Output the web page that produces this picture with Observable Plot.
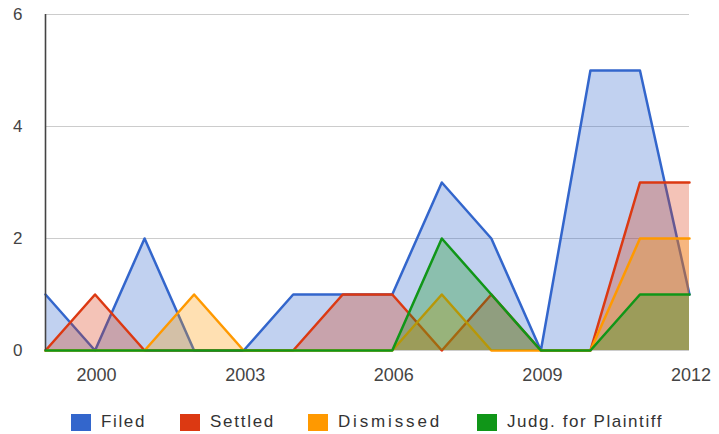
<!DOCTYPE html>
<html>
<head>
<meta charset="utf-8">
<script src="https://cdn.jsdelivr.net/npm/d3@7"></script>
<script src="https://cdn.jsdelivr.net/npm/@observablehq/plot@0.6"></script>
<style>
  html, body { margin: 0; padding: 0; background: #fff; }
  body { width: 719px; height: 434px; overflow: hidden; font-family: "Liberation Sans", Arial, sans-serif; }
  #legend { position: relative; height: 34px; }
  .item { position: absolute; top: 12px; display: flex; align-items: center; font-size: 17px; color: #333; white-space: nowrap; }
  .sw { width: 20px; height: 17px; margin-right: 10px; flex: none; }
</style>
</head>
<body>
<div id="chart"></div>
<div id="legend"></div>
<script>
const years = [1999, 2000, 2001, 2002, 2003, 2004, 2005, 2006, 2007, 2008, 2009, 2010, 2011, 2012];
const seriesNames = ["Filed", "Settled", "Dismissed", "Judg. for Plaintiff"];
const seriesColors = ["#3366cc", "#dc3912", "#ff9900", "#109618"];
const filed     = [1, 0, 2, 0, 0, 1, 1, 1, 3, 2, 0, 5, 5, 1];
const settled   = [0, 1, 0, 0, 0, 0, 1, 1, 0, 1, 0, 0, 3, 3];
const dismissed = [0, 0, 0, 1, 0, 0, 0, 0, 1, 0, 0, 0, 2, 2];
const judgment  = [0, 0, 0, 0, 0, 0, 0, 0, 2, 1, 0, 0, 1, 1];
const xTicks = [2000, 2003, 2006, 2009, 2012];
const yTicks = [0, 2, 4, 6];

const allValues = [filed, settled, dismissed, judgment];
const data = [];
seriesNames.forEach((name, i) => {
  years.forEach((yr, j) => data.push({series: name, year: yr, value: allValues[i][j]}));
});

const marks = [
  Plot.ruleY(yTicks, {stroke: "#cccccc", strokeWidth: 1})
];
seriesNames.forEach((name, i) => {
  const d = data.filter(r => r.series === name);
  marks.push(Plot.areaY(d, {x: "year", y: "value", fill: seriesColors[i], fillOpacity: 0.3}));
  marks.push(Plot.line(d, {x: "year", y: "value", stroke: seriesColors[i], strokeWidth: 2.5}));
});
marks.push(Plot.ruleX([years[0]], {y1: 0, y2: 6, stroke: "#444", strokeWidth: 1.6}));
marks.push(Plot.axisX({ticks: xTicks, tickFormat: d => String(d), tickSize: 0, tickPadding: 18, fontSize: 18, fill: "#444", letterSpacing: 3, dx: 1.5, label: null}));
marks.push(Plot.axisY({ticks: yTicks, tickFormat: d => String(d), tickSize: 0, tickPadding: 23, fontSize: 17, fill: "#444", label: null}));

const chart = Plot.plot({
  width: 719,
  height: 400,
  marginLeft: 45,
  marginRight: 30,
  marginTop: 14,
  marginBottom: 50,
  x: {domain: [1999, 2012]},
  y: {domain: [0, 6]},
  style: {fontFamily: "'Liberation Sans', Arial, sans-serif", background: "#fff"},
  marks
});
document.getElementById("chart").appendChild(chart);

const lefts = [71, 180, 308, 477];
const textWidths = [45, 65, 104, 156];
const legend = document.getElementById("legend");
seriesNames.forEach((name, i) => {
  const it = document.createElement("div");
  it.className = "item";
  it.style.left = lefts[i] + "px";
  const sw = document.createElement("span");
  sw.className = "sw";
  sw.style.background = seriesColors[i];
  const tx = document.createElement("span");
  tx.textContent = name;
  it.appendChild(sw);
  it.appendChild(tx);
  legend.appendChild(it);
  const w = tx.getBoundingClientRect().width;
  tx.style.letterSpacing = ((textWidths[i] - w) / name.length) + "px";
});
</script>
</body>
</html>
